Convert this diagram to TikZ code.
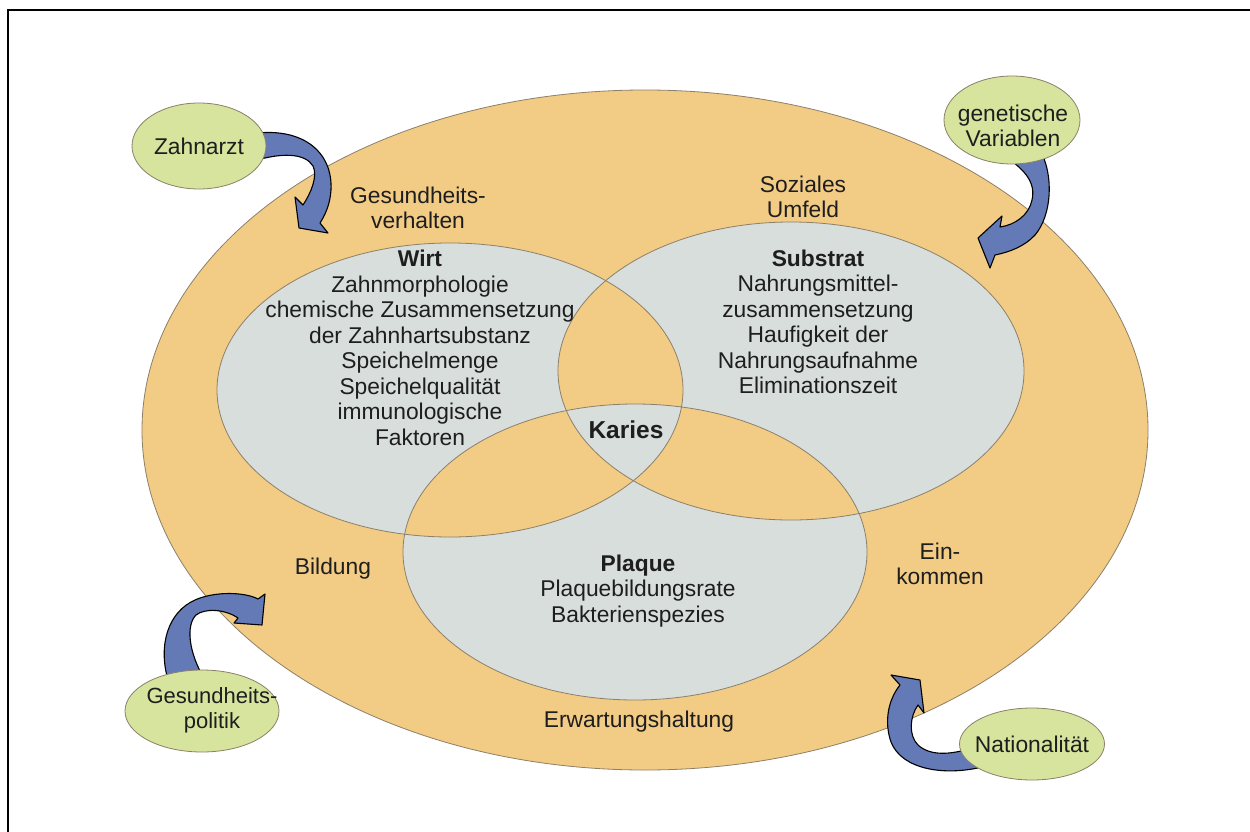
\documentclass[tikz,border=0pt]{standalone}
\usepackage{fontspec}
\setmainfont{Liberation Sans}
\usetikzlibrary{shapes.geometric}
\definecolor{orangec}{RGB}{242,203,133}
\definecolor{greyc}{RGB}{216,222,220}
\definecolor{greenc}{RGB}{214,228,158}
\definecolor{bluec}{RGB}{100,122,182}
\definecolor{vennline}{RGB}{140,128,105}
\definecolor{textc}{RGB}{30,30,30}
\begin{document}
\begin{tikzpicture}[x=1pt,y=-1pt,
  txt/.style={align=center, inner sep=0pt, text=textc, font=\fontsize{22.8}{25.5}\selectfont},
  btxt/.style={align=center, inner sep=0pt, text=textc, font=\fontsize{24.5}{27}\selectfont\bfseries},
  factor/.style={ellipse, draw=vennline, line width=0.8pt, fill=greenc, inner sep=0pt},
  blockarrow/.style={fill=bluec, draw=black, line width=1.1pt, line join=round},
  vline/.style={draw=vennline, line width=0.8pt}]
\useasboundingbox (0,0) rectangle (1250,832);
% frame
\draw[black, line width=1.4pt] (1250,10) -- (8,10) -- (8,832);
% outer ellipse
\fill[orangec] (645,430) ellipse [x radius=503, y radius=340];
\draw[vline] (645,430) ellipse [x radius=503, y radius=340];
% Venn
\fill[greyc, even odd rule] (450,390) ellipse [x radius=233, y radius=147]
  (791,371) ellipse [x radius=233, y radius=149]
  (635,552) ellipse [x radius=232, y radius=148];
\draw[vline] (450,390) ellipse [x radius=233, y radius=147];
\draw[vline] (791,371) ellipse [x radius=233, y radius=149];
\draw[vline] (635,552) ellipse [x radius=232, y radius=148];
% arrows
\draw[blockarrow] (250,134) .. controls (300,126) and (333,150) .. (331,190) .. controls (330,205) and (325,215) .. (320,223) -- (328,233) -- (299,228) -- (295,197) -- (303,205) .. controls (311,193) and (318,176) .. (313,166) .. controls (305,153) and (282,152) .. (250,162) -- cycle;
\draw[blockarrow] (1040,150) .. controls (1054,175) and (1052,215) .. (1035,235) .. controls (1025,246) and (1010,252) .. (995,255) -- (990,268) -- (978,238) -- (1002,216) -- (1000,227) .. controls (1015,225) and (1029,215) .. (1032,200) .. controls (1036,182) and (1025,168) .. (995,150) -- cycle;
\draw[blockarrow] (168,680) .. controls (158,645) and (168,612) .. (195,600) .. controls (215,591) and (245,592) .. (258,599) -- (265,594) -- (262,625) -- (234,623) -- (238,618) .. controls (225,609) and (205,608) .. (196,615) .. controls (186,625) and (188,652) .. (205,680) -- cycle;
\draw[blockarrow] (982,767) .. controls (945,776) and (902,770) .. (891,742) .. controls (884,722) and (888,700) .. (900,685) -- (891,675) -- (920,680) -- (924,713) -- (918,705) .. controls (910,716) and (908,735) .. (918,745) .. controls (930,756) and (950,755) .. (972,748) -- cycle;
% factor ellipses
\node[factor, minimum width=134, minimum height=86] (zahnarzt) at (199,146) {};
\node[factor, minimum width=136, minimum height=88] (genetik) at (1012,120) {};
\node[factor, minimum width=154, minimum height=82] (politik) at (202,711) {};
\node[factor, minimum width=145, minimum height=72] (national) at (1032,744) {};
\node[txt] (zahnarztT) at (zahnarzt) {Zahnarzt};
\node[txt] (genetikT) at (1013,126) {genetische\\Variablen};
\node[txt, font=\fontsize{22}{25}\selectfont] (politikT) at (212,710) {Gesundheits-\\politik};
\node[txt] (nationalT) at (national) {Nationalität};
% texts
\node[txt] (verhalten) at (418,208) {Gesundheits-\\verhalten};
\node[txt] (sozial) at (803,197) {Soziales\\Umfeld};
\node[txt] (wirt) at (420,348) {\textbf{Wirt}\\Zahnmorphologie\\chemische Zusammensetzung\\der Zahnhartsubstanz\\Speichelmenge\\Speichelqualität\\immunologische\\Faktoren};
\node[txt] (substrat) at (818,322) {\textbf{Substrat}\\Nahrungsmittel-\\zusammensetzung\\Haufigkeit der\\Nahrungsaufnahme\\Eliminationszeit};
\node[btxt] (karies) at (626,430) {Karies};
\node[txt] (plaque) at (638,591) {\textbf{Plaque}\\Plaquebildungsrate\\Bakterienspezies};
\node[txt] (bildung) at (333,569) {Bildung};
\node[txt] (einkommen) at (940,564) {Ein-\\kommen};
\node[txt] (erwartung) at (639,722) {Erwartungshaltung};
\end{tikzpicture}
\end{document}
